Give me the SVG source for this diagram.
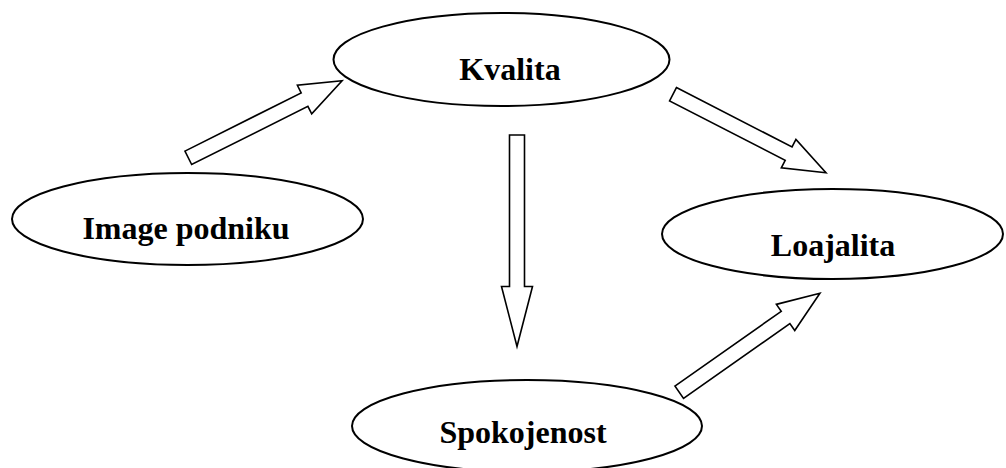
<svg xmlns="http://www.w3.org/2000/svg" width="1006" height="468" viewBox="0 0 1006 468">
  <style>
    .node ellipse { fill: #ffffff; stroke: #000000; stroke-width: 2; }
    .node text { font-family: "Liberation Serif", "Times New Roman", serif; font-weight: bold; font-size: 32px; fill: #000000; text-anchor: middle; }
    .block { fill: #ffffff; stroke: #000000; stroke-width: 1.6; stroke-linejoin: miter; }
  </style>
  <defs>
    <!-- hollow block arrow pointing along +x, tail at origin -->
    <path id="blockArrow" d="M0,-7.5 H130 V-16 L172,0 L130,16 V7.5 H0 Z"/>
  </defs>

  <rect width="1006" height="468" fill="#ffffff"/>

  <g id="connectors">
    <use href="#blockArrow" class="block" transform="translate(188.3,157.8) rotate(-26.6)"/>
    <use href="#blockArrow" class="block" transform="translate(673,94.2) rotate(27.2)"/>
    <use href="#blockArrow" class="block" transform="translate(679.2,392.2) rotate(-35.1)"/>
    <path class="block" d="M509.5,135 H524.5 V286.5 H532.5 L517,346.5 L501.5,286.5 H509.5 Z"/>
  </g>

  <g id="kvalita" class="node">
    <ellipse cx="501.5" cy="59.5" rx="168" ry="46.5"/>
    <text x="510" y="80">Kvalita</text>
  </g>

  <g id="image-podniku" class="node">
    <ellipse cx="187.5" cy="219" rx="175.5" ry="46"/>
    <text x="186" y="239">Image podniku</text>
  </g>

  <g id="loajalita" class="node">
    <ellipse cx="832.5" cy="234" rx="170.5" ry="45"/>
    <text x="833" y="256">Loajalita</text>
  </g>

  <g id="spokojenost" class="node">
    <ellipse cx="527" cy="426" rx="175" ry="46"/>
    <text x="523" y="443">Spokojenost</text>
  </g>
</svg>
